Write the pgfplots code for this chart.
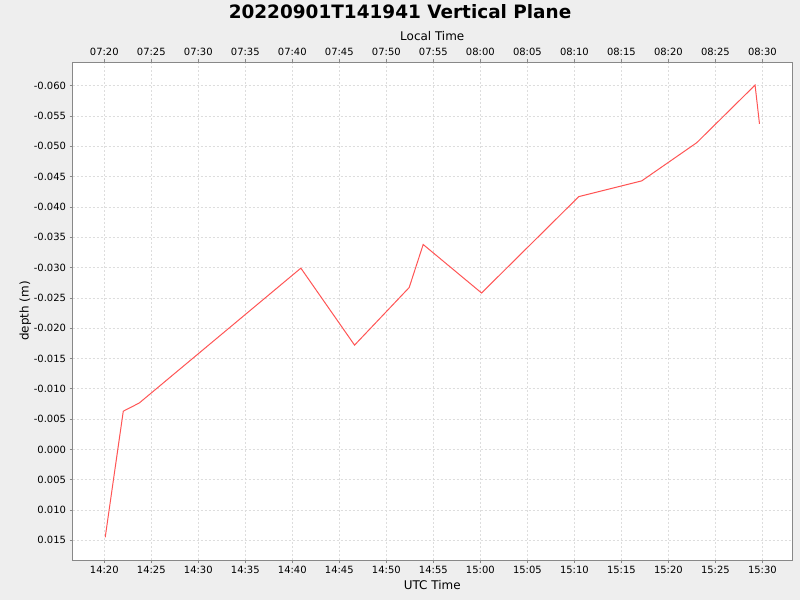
\documentclass[border=0pt]{standalone}
\usepackage{fontspec}
\setmainfont{DejaVu Sans}
\usepackage{pgfplots}
\pgfplotsset{compat=1.18}
\definecolor{bgpanel}{HTML}{EEEEEE}
\definecolor{gridgray}{HTML}{DDDDDD}
\definecolor{framegray}{HTML}{888888}
\definecolor{depthred}{HTML}{FF5555}

% minutes after 14:00 UTC, depth (m)
\pgfplotstableread{
t      d
20.10   0.0145
22.02  -0.0063
23.72  -0.00765
40.91  -0.0299
46.62  -0.0172
52.43  -0.0267
53.92  -0.0338
60.13  -0.0258
70.47  -0.0417
77.17  -0.0443
83.02  -0.0506
89.22  -0.0601
89.69  -0.0537
}\depthdata

\begin{document}
\begin{tikzpicture}[x=1bp,y=1bp]
  \fill[bgpanel] (0,0) rectangle (800,600);
  \pgfplotsset{
    common/.style={
      at={(72.5bp,40bp)}, anchor=south west,
      scale only axis, width=719.5bp, height=498bp,
      xmin=16.62, xmax=93.15,
      ymin=-0.06391, ymax=0.01825, y dir=reverse,
      xtick={20,25,...,90},
      tick align=outside, major tick length=3bp,
      tick style={framegray, line width=0.6bp},
      axis line style={framegray, line width=0.8bp},
      tick label style={font=\fontsize{10}{12}\selectfont, black},
      label style={font=\fontsize{12}{14}\selectfont},
    },
  }
  \begin{axis}[common,
      axis background/.style={fill=white},
      xticklabels={14:20,14:25,14:30,14:35,14:40,14:45,14:50,14:55,15:00,15:05,15:10,15:15,15:20,15:25,15:30},
      ytick={-0.060,-0.055,...,0.016},
      yticklabel style={/pgf/number format/.cd, fixed, fixed zerofill, precision=3, assume math mode=true},
      scaled y ticks=false,
      xtick pos=bottom, ytick pos=left,
      grid=major,
      major grid style={gridgray, dash pattern=on 2bp off 2bp, line width=0.6bp},
      xlabel={UTC Time}, ylabel={depth (m)},
      ylabel style={yshift=-4bp},
    ]
    \addplot[depthred, line width=1bp] table[x=t, y=d] {\depthdata};
  \end{axis}
  \begin{axis}[common,
      axis x line*=top, axis y line=none,
      xticklabels={07:20,07:25,07:30,07:35,07:40,07:45,07:50,07:55,08:00,08:05,08:10,08:15,08:20,08:25,08:30},
      xlabel={Local Time},
    ]
  \end{axis}
  \node[font=\fontsize{18.5}{22}\selectfont\bfseries] at (400,588) {20220901T141941 Vertical Plane};
\end{tikzpicture}
\end{document}
